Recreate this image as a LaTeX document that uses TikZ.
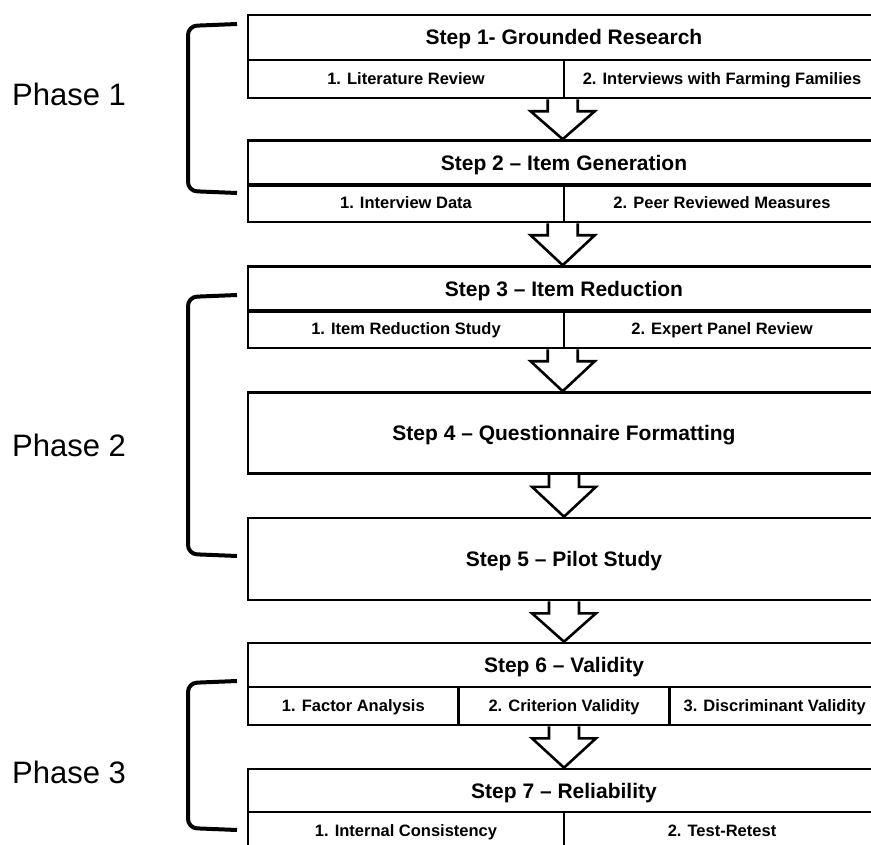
\documentclass[tikz,border=0pt]{standalone}
\usepackage{fontspec}
\setmainfont{Liberation Sans}
\usetikzlibrary{calc}

\tikzset{
  box/.style={draw=black, line width=2.6pt, fill=white, inner sep=0pt,
              minimum width=632pt, align=center},
  hdr/.style={box, minimum height=45pt, text height=15pt, text depth=0pt,
              font=\fontsize{21}{24}\selectfont\bfseries},
  cell/.style={draw=black, line width=2.6pt, inner sep=0pt,
               minimum height=38pt, text height=11.8pt, text depth=0pt,
               font=\fontsize{16.5}{19}\selectfont\bfseries},
  half/.style={cell, minimum width=316pt},
  third/.style={cell, minimum width=210.67pt},
  barrow/.style={draw=black, line width=2.6pt, line join=miter},
  brk/.style={draw=black, line width=4pt, rounded corners=9pt},
  phase/.style={inner sep=0pt, anchor=west, text height=22.2pt, text depth=0pt,
                font=\fontsize{31}{35}\selectfont}
}

% hollow block arrow from the bottom edge #1 down to the top edge #2
\newcommand{\flowarrow}[2]{%
  \draw[barrow] let \p1=(#1), \p2=(#2) in
    (\x1-15pt,\y1) -- (\x1-15pt,\y1-12pt) -- (\x1-32pt,\y1-12pt)
    -- (\x1,\y2) -- (\x1+32pt,\y1-12pt) -- (\x1+15pt,\y1-12pt) -- (\x1+15pt,\y1);
}

\begin{document}
\begin{tikzpicture}[x=1pt, y=-1pt]
  \useasboundingbox (0,0) rectangle (871,845);
  \clip (0,0) rectangle (871,845);

  % Step 1
  \node[hdr] (s1) at (564,37.5) {Step 1- Grounded Research};
  \node[half] (s1a) at (406,79) {1. Literature Review};
  \node[half] (s1b) at (722,79) {2. Interviews with Farming Families};

  % Step 2
  \node[hdr] (s2) at (564,163) {Step 2 -- Item Generation};
  \node[half] (s2a) at (406,203) {1. Interview Data};
  \node[half] (s2b) at (722,203) {2. Peer Reviewed Measures};

  % Step 3
  \node[hdr] (s3) at (564,289) {Step 3 -- Item Reduction};
  \node[half] (s3a) at (406,329) {1. Item Reduction Study};
  \node[half] (s3b) at (722,329) {2. Expert Panel Review};

  % Step 4 and Step 5
  \node[hdr, minimum height=81pt] (s4) at (564,433) {Step 4 -- Questionnaire Formatting};
  \node[hdr, minimum height=82pt] (s5) at (564,559) {Step 5 -- Pilot Study};

  % Step 6
  \node[hdr, minimum height=44pt] (s6) at (564,665) {Step 6 -- Validity};
  \node[third] (s6a) at (353.33,706) {1. Factor Analysis};
  \node[third] (s6b) at (564,706) {2. Criterion Validity};
  \node[third] (s6c) at (774.67,706) {3. Discriminant Validity};

  % Step 7
  \node[hdr, minimum height=43pt] (s7) at (564,790.5) {Step 7 -- Reliability};
  \node[half] (s7a) at (406,831) {1. Internal Consistency};
  \node[half] (s7b) at (722,831) {2. Test-Retest};

  % block arrows between the steps
  \flowarrow{s1b.south west}{s2.north}
  \flowarrow{s2b.south west}{s3.north}
  \flowarrow{s3b.south west}{s4.north}
  \flowarrow{s4.south}{s5.north}
  \flowarrow{s5.south}{s6.north}
  \flowarrow{s6b.south}{s7.north}

  % phase brackets and labels
  \draw[brk] (237,24) -- (188,26) -- (188,191) -- (237,193);
  \draw[brk] (237,295) -- (188,297) -- (188,554) -- (237,556);
  \draw[brk] (237,681) -- (188,683) -- (188,828) -- (237,830);

  \node[phase] (p1) at (12,94) {Phase 1};
  \node[phase] (p2) at (12,445) {Phase 2};
  \node[phase] (p3) at (12,772) {Phase 3};
\end{tikzpicture}
\end{document}
